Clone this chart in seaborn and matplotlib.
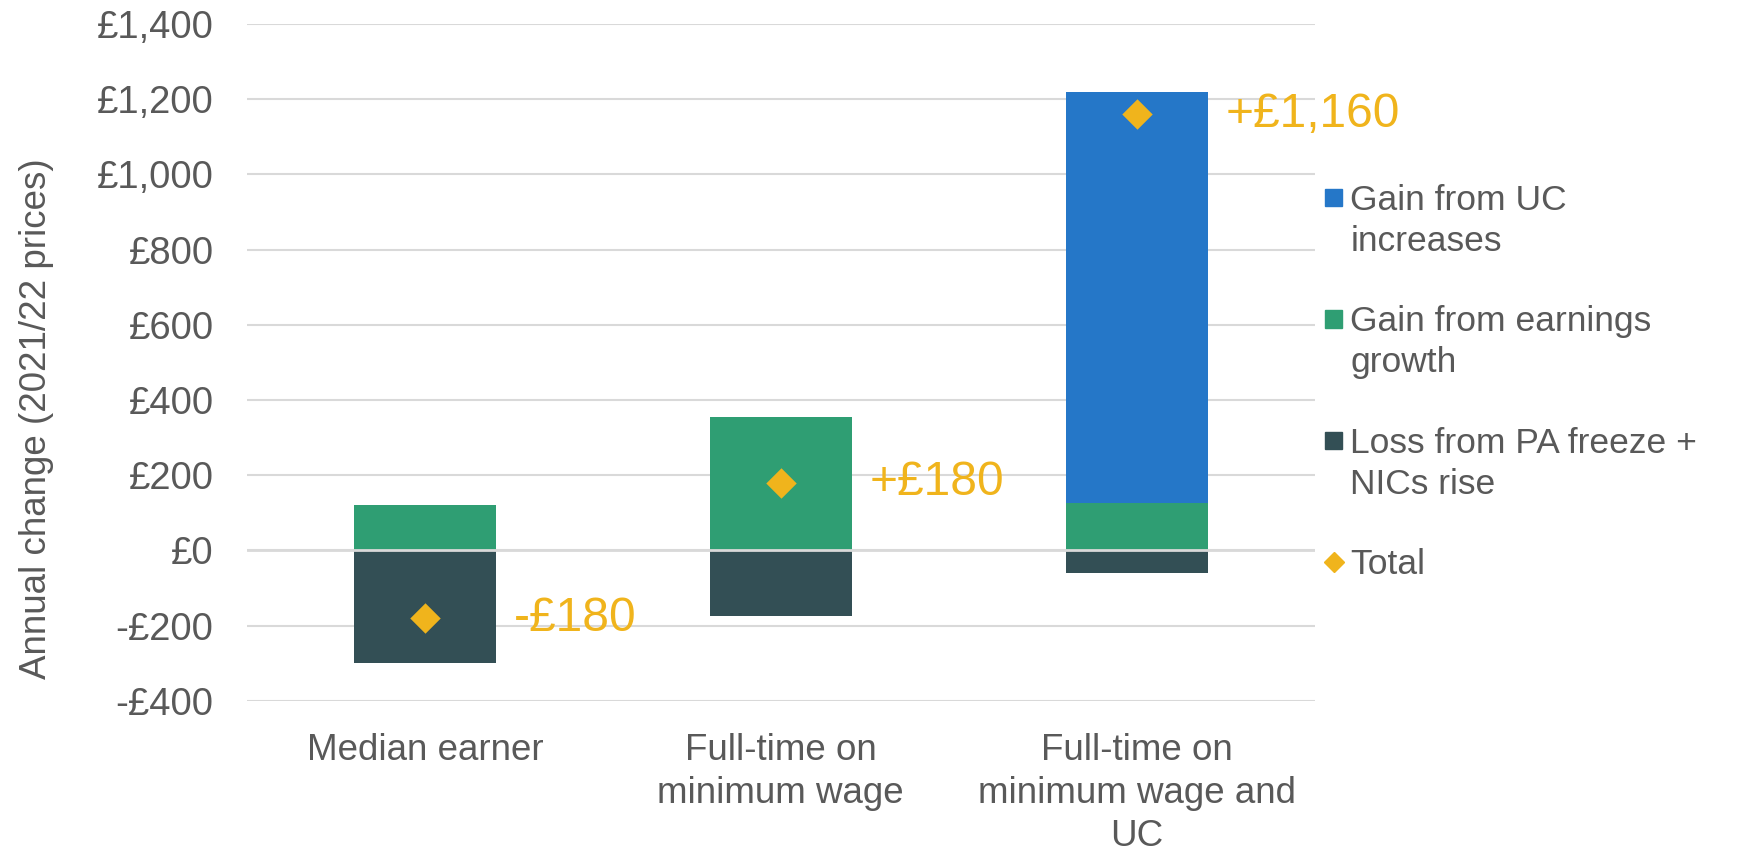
import matplotlib
matplotlib.use("Agg")
import matplotlib.pyplot as plt
from matplotlib.patches import Rectangle
from matplotlib.lines import Line2D
from matplotlib.legend_handler import HandlerPatch
import seaborn as sns

# Data
categories = ["Median earner", "Full-time on\nminimum wage", "Full-time on\nminimum wage and\nUC"]
gain_uc = [0, 0, 1095]
gain_earnings = [120, 355, 125]
loss_pa_nics = [-300, -175, -60]
totals = [-180, 180, 1160]
total_labels = ["-£180", "+£180", "+£1,160"]
yticks = [-400, -200, 0, 200, 400, 600, 800, 1000, 1200, 1400]

BLUE = "#2577C8"
GREEN = "#2F9E73"
DARK = "#334F55"
GOLD = "#F0B41C"
GREY_TXT = "#595959"
GRID = "#D9D9D9"
FS = 26.5
FS_LEG = 25.5

sns.set_theme(style="white")
plt.rcParams["font.family"] = ["Liberation Sans", "DejaVu Sans"]

fig = plt.figure(figsize=(17.39, 8.49), dpi=100)
ax = fig.add_axes([0.142, 0.1746, 0.614, 0.7971])

bar_w = 0.4
sns.barplot(x=categories, y=gain_earnings, color=GREEN, width=bar_w,
            saturation=1, ax=ax, zorder=2, linewidth=0)
sns.barplot(x=categories, y=gain_uc, bottom=gain_earnings, color=BLUE, width=bar_w,
            saturation=1, ax=ax, zorder=2, linewidth=0)
sns.barplot(x=categories, y=loss_pa_nics, color=DARK, width=bar_w,
            saturation=1, ax=ax, zorder=2, linewidth=0)
sns.stripplot(x=categories, y=totals, jitter=False, marker="D", size=15.5,
              color=GOLD, linewidth=0, ax=ax, zorder=4)

for i, (t, lab) in enumerate(zip(totals, total_labels)):
    ax.text(i + 0.25, t, lab, color=GOLD, fontsize=34.5, ha="left", va="center",
            zorder=5)

ax.set_xlim(-0.5, 2.5)
ax.set_ylim(-400, 1400)
ax.set_yticks(yticks)
ax.set_yticklabels([("-£" if v < 0 else "£") + f"{abs(v):,}" for v in yticks])
ax.yaxis.grid(True, color=GRID, linewidth=1.5, zorder=0)
ax.set_axisbelow(True)
ax.axhline(0, color=GRID, linewidth=2, zorder=3)
for s in ax.spines.values():
    s.set_visible(False)
ax.tick_params(axis="y", length=0, pad=24, labelsize=27.5, labelcolor=GREY_TXT)
ax.tick_params(axis="x", length=0, pad=23, labelsize=FS, labelcolor=GREY_TXT)
for t in ax.get_xticklabels():
    t.set_linespacing(1.3)
ax.set_xlabel("")
ax.set_ylabel("Annual change (2021/22 prices)", fontsize=FS, color=GREY_TXT,
              va="center")
ax.yaxis.set_label_coords(-0.1973, 0.4165)


def shifted_square(shift):
    def make(legend, orig_handle, xdescent, ydescent, width, height, fontsize):
        side = 12.5
        cx = -xdescent + width / 2
        cy = -ydescent + height / 2 + shift
        return Rectangle((cx - side / 2, cy - side / 2), side, side)
    return make


h_uc = Rectangle((0, 0), 1, 1, color=BLUE)
h_earn = Rectangle((0, 0), 1, 1, color=GREEN)
h_loss = Rectangle((0, 0), 1, 1, color=DARK)
h_tot = Line2D([], [], marker="D", color=GOLD, linestyle="none", markersize=10.5)

leg = fig.legend(
    [h_uc, h_earn, h_loss, h_tot],
    ["Gain from UC\nincreases", "Gain from earnings\ngrowth",
     "Loss from PA freeze +\nNICs rise", "Total"],
    handler_map={
        h_uc: HandlerPatch(patch_func=shifted_square(17.3)),
        h_earn: HandlerPatch(patch_func=shifted_square(17.3)),
        h_loss: HandlerPatch(patch_func=shifted_square(17.3)),
    },
    loc="upper left", bbox_to_anchor=(1325 / 1739, 1 - 184 / 849),
    frameon=False, fontsize=FS_LEG, labelcolor=GREY_TXT,
    handlelength=0.49, handleheight=0.6, handletextpad=0.22,
    labelspacing=1.345, borderpad=0, borderaxespad=0,
)
for t in leg.get_texts():
    t.set_linespacing(1.3)

fig.savefig("out.png", dpi=100)
